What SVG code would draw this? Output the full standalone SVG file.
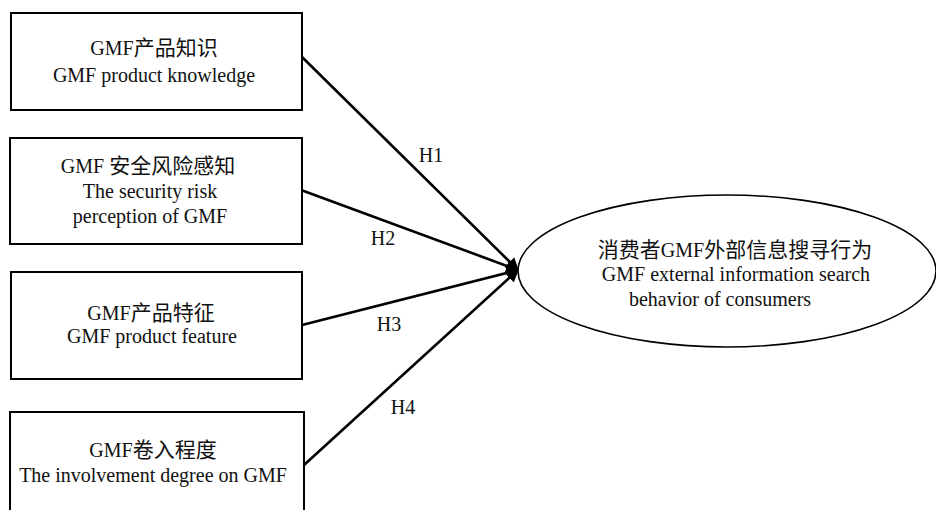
<svg xmlns="http://www.w3.org/2000/svg" width="936" height="510" viewBox="0 0 936 510">
<defs>
<style>
.box{fill:#fff;stroke:#000;stroke-width:2}
.ell{fill:#fff;stroke:#000;stroke-width:1.6}
.t{font-family:"Liberation Serif","Noto Sans CJK SC",serif;font-size:20px;fill:#111;text-anchor:middle}
.c{font-size:21px}
.edge{stroke:#000;stroke-width:2.6;fill:none;marker-end:url(#arr)}
</style>
<marker id="arr" viewBox="0 0 10 10" refX="9" refY="5" markerWidth="5" markerHeight="5" orient="auto" markerUnits="strokeWidth">
<path d="M0,0 L10,5 L0,10 z" fill="#000"/>
</marker>
</defs>
<rect width="936" height="510" fill="#fff"/>
<g id="connectors">
<line class="edge" x1="302" y1="57" x2="518" y2="270"/>
<line class="edge" x1="301" y1="190" x2="518" y2="270"/>
<line class="edge" x1="302" y1="325" x2="518" y2="270"/>
<line class="edge" x1="304" y1="465" x2="518" y2="270"/>
<text class="t" x="431" y="162">H1</text>
<text class="t" x="383" y="245">H2</text>
<text class="t" x="389" y="331">H3</text>
<text class="t" x="403" y="414">H4</text>
</g>
<g id="n1">
<rect class="box" x="11" y="13" width="291" height="97"/>
<text class="t" x="154" y="55">GMF<tspan class="c">产品知识</tspan></text>
<text class="t" x="154" y="82">GMF product knowledge</text>
</g>
<g id="n2">
<rect class="box" x="10" y="138" width="292" height="106"/>
<text class="t" x="148" y="173">GMF <tspan class="c">安全风险感知</tspan></text>
<text class="t" x="150" y="198">The security risk</text>
<text class="t" x="150" y="223">perception of GMF</text>
</g>
<g id="n3">
<rect class="box" x="11" y="272" width="291" height="107"/>
<text class="t" x="151" y="320">GMF<tspan class="c">产品特征</tspan></text>
<text class="t" x="152" y="343">GMF product feature</text>
</g>
<g id="n4">
<rect class="box" x="10" y="412" width="294" height="104"/>
<text class="t" x="153" y="457">GMF<tspan class="c">卷入程度</tspan></text>
<text class="t" x="153" y="482">The involvement degree on GMF</text>
</g>
<g id="n5">
<ellipse class="ell" cx="727" cy="271" rx="209" ry="76"/>
<text class="t" x="735" y="257"><tspan class="c">消费者</tspan>GMF<tspan class="c">外部信息搜寻行为</tspan></text>
<text class="t" x="736" y="281">GMF external information search</text>
<text class="t" x="720" y="306">behavior of consumers</text>
</g>
</svg>
